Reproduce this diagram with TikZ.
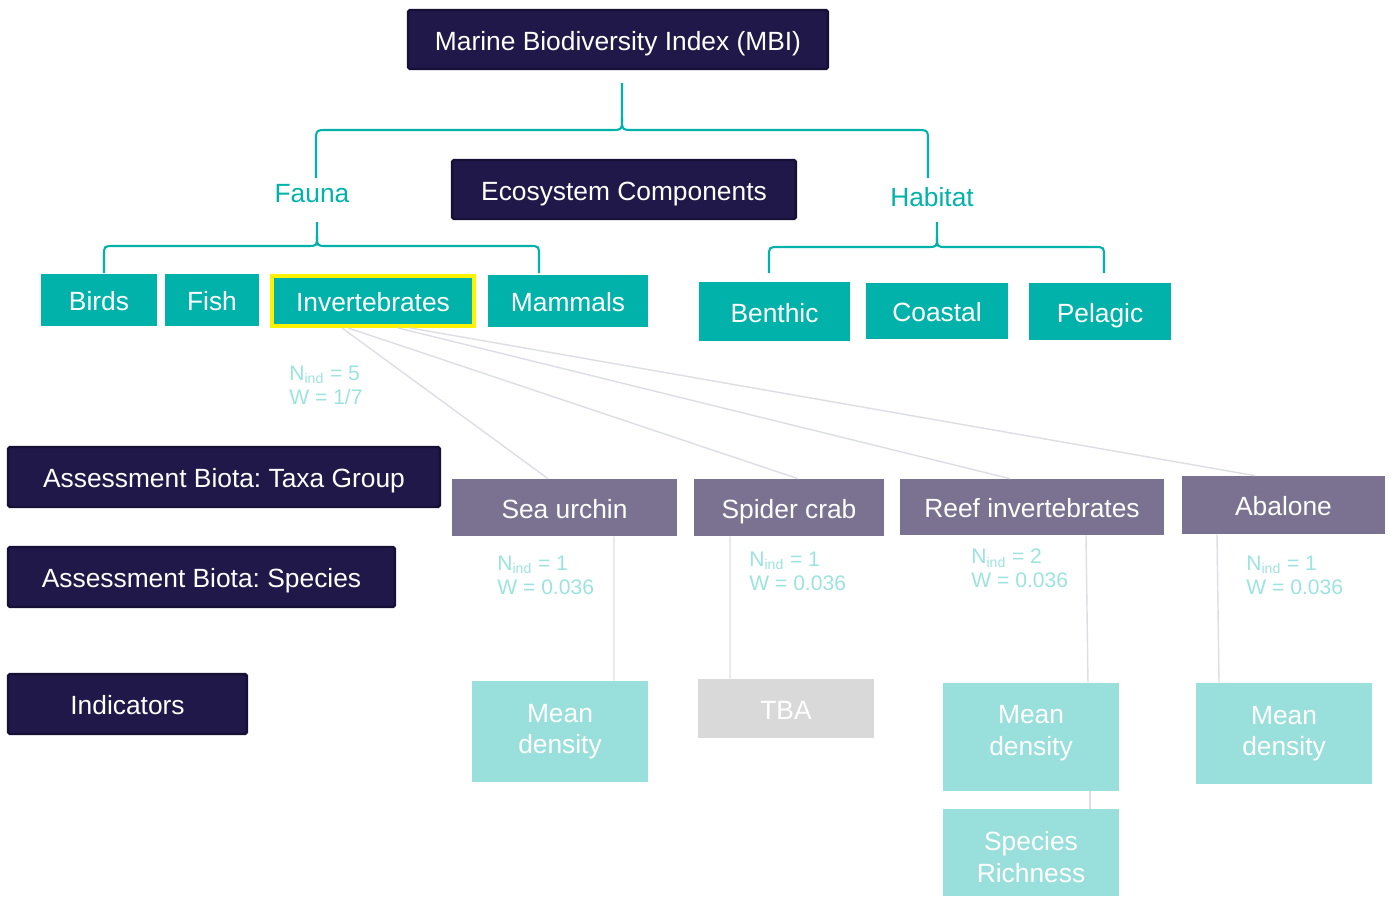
\documentclass[tikz,border=0pt]{standalone}
\usepackage{fontspec}
\setmainfont{Liberation Sans}
\usetikzlibrary{positioning,calc}
\definecolor{navy}{HTML}{201848}
\definecolor{navyedge}{HTML}{160F36}
\definecolor{mbiteal}{HTML}{00B2A9}
\definecolor{taxonc}{HTML}{7A7290}
\definecolor{pale}{HTML}{99DFDB}
\definecolor{paletext}{HTML}{9CE3DF}
\definecolor{tbagrey}{HTML}{D9D9D9}
\definecolor{linkgrey}{HTML}{DDDDE5}
\frenchspacing

\begin{document}
\begin{tikzpicture}[x=0.02cm, y=-0.02cm, font=\fontsize{15}{18}\selectfont,
  oneline/.style={text height=12.5pt, text depth=0pt},
  title/.style={oneline, draw=navyedge, line width=1.4pt, fill=navy, text=white, rounded corners=1pt, inner sep=0pt},
  group/.style={oneline, fill=mbiteal, text=white, inner sep=0pt},
  taxon/.style={oneline, fill=taxonc, text=white, inner sep=0pt},
  indic/.style={fill=pale, text=white, align=center, inner sep=0pt, minimum width=3.52cm},
  stat/.style={text=paletext, align=left, anchor=west, inner sep=0pt, font=\fontsize{12}{13.5}\selectfont},
  brace/.style={draw=mbiteal, line width=1.2pt},
  link/.style={draw=linkgrey, line width=0.8pt}]
\useasboundingbox (0,0) rectangle (1393,897);
%% headings
\node[title, minimum width=8.4cm, minimum height=1.18cm] (mbi) at (618,39.5) {Marine Biodiversity Index (MBI)};
\node[title, minimum width=6.88cm, minimum height=1.18cm] (eco) at (624,189.5) {Ecosystem Components};
\node[title, minimum width=8.64cm, minimum height=1.2cm] (taxa) at (224,477) {Assessment Biota: Taxa Group};
\node[title, minimum width=7.74cm, minimum height=1.2cm] (spec) at (201.5,577) {Assessment Biota: Species};
\node[title, minimum width=4.78cm, minimum height=1.2cm] (ind) at (127.5,704) {Indicators};
%% components
\node[text=mbiteal] (fauna) at (312,194) {Fauna};
\node[text=mbiteal] (habitat) at (932,197) {Habitat};
\node[group, minimum width=2.32cm, minimum height=1.04cm] (birds) at (99,300) {Birds};
\node[group, minimum width=1.88cm, minimum height=1.04cm] (fish) at (212,300) {Fish};
\node[group, draw=yellow, line width=2.2pt, minimum width=4.04cm, minimum height=1.0cm] (inv) at (373,301) {Invertebrates};
\node[group, minimum width=3.2cm, minimum height=1.04cm] (mammals) at (568,301) {Mammals};
\node[group, minimum width=3.02cm, minimum height=1.18cm] (benthic) at (774.5,311.5) {Benthic};
\node[group, minimum width=2.84cm, minimum height=1.12cm] (coastal) at (937,311) {Coastal};
\node[group, minimum width=2.84cm, minimum height=1.14cm] (pelagic) at (1100,311.5) {Pelagic};
%% braces
\draw[brace] (316,178) -- (316,142) .. controls (316,130) .. (328,130) -- (610,130) .. controls (622,130) .. (622,118) -- (622,83);
\draw[brace] (622,118) .. controls (622,130) .. (634,130) -- (916,130) .. controls (928,130) .. (928,142) -- (928,178);
\draw[brace] (104,273) -- (104,256) .. controls (104,246) .. (114,246) -- (307,246) .. controls (317,246) .. (317,236) -- (317,222);
\draw[brace] (317,236) .. controls (317,246) .. (327,246) -- (529,246) .. controls (539,246) .. (539,256) -- (539,273);
\draw[brace] (769,273) -- (769,257) .. controls (769,247) .. (779,247) -- (927,247) .. controls (937,247) .. (937,237) -- (937,222);
\draw[brace] (937,237) .. controls (937,247) .. (947,247) -- (1094,247) .. controls (1104,247) .. (1104,257) -- (1104,273);
%% species
\node[taxon, minimum width=4.5cm, minimum height=1.14cm] (urchin) at (564.5,507.5) {Sea urchin};
\node[taxon, minimum width=3.8cm, minimum height=1.14cm] (crab) at (789,507.5) {Spider crab};
\node[taxon, minimum width=5.28cm, minimum height=1.12cm] (reef) at (1032,507) {Reef invertebrates};
\node[taxon, minimum width=4.06cm, minimum height=1.16cm] (abalone) at (1283.5,505) {Abalone};
\draw[link] ([xshift=-0.62cm]inv.south) -- ([xshift=-0.33cm]urchin.north);
\draw[link] ([xshift=-0.5cm]inv.south) -- ([xshift=0.18cm]crab.north);
\draw[link] ([xshift=0.5cm]inv.south) -- ([xshift=-0.44cm]reef.north);
\draw[link] ([xshift=0.74cm]inv.south) -- ([xshift=-0.57cm]abalone.north);
%% weights
\node[stat] (w-inv) at (289,385.5) {N\textsubscript{ind} = 5\\W = 1/7};
\node[stat] (w-urchin) at (497,575) {N\textsubscript{ind} = 1\\W = 0.036};
\node[stat] (w-crab) at (749,571.5) {N\textsubscript{ind} = 1\\W = 0.036};
\node[stat] (w-reef) at (971,568.5) {N\textsubscript{ind} = 2\\W = 0.036};
\node[stat] (w-abalone) at (1246,575) {N\textsubscript{ind} = 1\\W = 0.036};
%% indicators
\node[indic, minimum height=2.02cm] (md1) at (560,731.5) {Mean\\density};
\node[indic, oneline, fill=tbagrey, minimum height=1.18cm] (tba) at (786,708.5) {TBA};
\node[indic, text depth=7.8pt, minimum height=2.16cm] (md2) at (1031,737) {Mean\\density};
\node[indic, text height=34pt, minimum height=1.74cm] (rich) at (1031,852.5) {Species\\Richness};
\node[indic, minimum height=2.02cm] (md3) at (1284,733.5) {Mean\\density};
\draw[link] ([xshift=0.99cm]urchin.south) -- ([xshift=1.08cm]md1.north);
\draw[link] ([xshift=-1.18cm]crab.south) -- ([xshift=-1.12cm]tba.north);
\draw[link] ([xshift=1.08cm]reef.south) -- ([xshift=1.14cm]md2.north);
\draw[link] ([xshift=1.18cm]md2.south) -- ([xshift=1.18cm]rich.north);
\draw[link] ([xshift=-1.33cm]abalone.south) -- ([xshift=-1.3cm]md3.north);
\end{tikzpicture}
\end{document}
